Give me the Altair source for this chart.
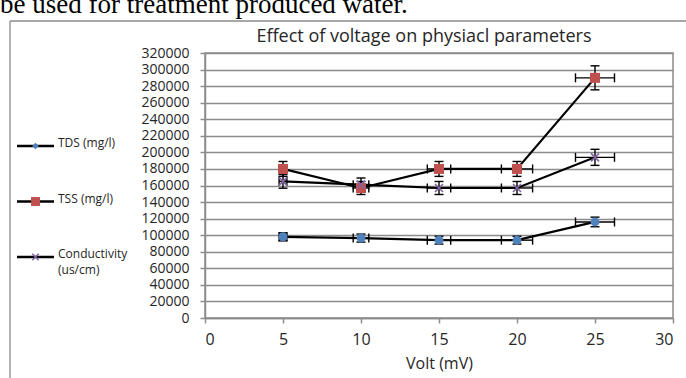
import altair as alt
import pandas as pd

# Measured values per applied voltage
volt = [5, 10, 15, 20, 25]
tds = [98000, 96500, 94000, 94000, 116000]
tss = [180000, 157000, 180000, 180000, 290000]
conductivity = [165000, 161000, 157000, 157000, 194000]

series_names = ["TDS (mg/l)", "TSS (mg/l)", "Conductivity (us/cm)"]
legend_lines = [["TDS (mg/l)"], ["TSS (mg/l)"], ["Conductivity", "(us/cm)"]]
series_colors = ["#4F81BD", "#C0504D", "#8064A2"]
error_fraction = 0.05  # 5 % error bars on both axes

x_ticks = [0, 5, 10, 15, 20, 25, 30]
y_ticks = list(range(0, 320001, 20000))

doc_text = "be used for treatment produced water."
chart_title = "Effect of voltage on physiacl parameters"

FONT = "Open Sans"
GRID = "#8c8c8c"
INK = "#262626"

rows = []
for name, values in zip(series_names, [tds, tss, conductivity]):
    for v, val in zip(volt, values):
        rows.append({
            "series": name, "volt": v, "value": val,
            "ylo": val * (1 - error_fraction), "yhi": val * (1 + error_fraction),
            "xlo": v * (1 - error_fraction), "xhi": v * (1 + error_fraction),
        })
df = pd.DataFrame(rows)

x_scale = alt.Scale(domain=[0, 30], nice=False, zero=False)
y_scale = alt.Scale(domain=[0, 320000], nice=False)
x_axis = alt.Axis(values=x_ticks, title="Volt (mV)", grid=False, tickSize=5,
                  labelPadding=8, titlePadding=8, labelFontSize=16, titleFontSize=16,
                  titleFontWeight="normal")
y_axis = alt.Axis(values=y_ticks, title=None, grid=True, format="d", tickSize=5,
                  labelPadding=11, labelFontSize=14)


def X(field):
    return alt.X(f"{field}:Q", scale=x_scale, axis=x_axis)


def Y(field):
    return alt.Y(f"{field}:Q", scale=y_scale, axis=y_axis)


base = alt.Chart(df)

lines = base.mark_line(color="black", strokeWidth=2.2).encode(
    x=X("volt"), y=Y("value"), detail="series:N", order="volt:Q"
)

# Error bars (5 %) in both directions, with end caps
err_style = dict(color="black", strokeWidth=1.4)
cap = dict(size=9, thickness=1.4, color="black", opacity=1)
y_err = base.mark_rule(**err_style).encode(x=X("volt"), y=Y("ylo"), y2="yhi:Q")
y_cap_lo = base.mark_tick(orient="horizontal", **cap).encode(x=X("volt"), y=Y("ylo"))
y_cap_hi = base.mark_tick(orient="horizontal", **cap).encode(x=X("volt"), y=Y("yhi"))
x_err = base.mark_rule(**err_style).encode(x=X("xlo"), x2="xhi:Q", y=Y("value"))
x_cap_lo = base.mark_tick(orient="vertical", **cap).encode(x=X("xlo"), y=Y("value"))
x_cap_hi = base.mark_tick(orient="vertical", **cap).encode(x=X("xhi"), y=Y("value"))


def subset(name):
    return base.transform_filter(alt.datum.series == name)


tds_pts = subset(series_names[0]).mark_point(
    shape="circle", filled=True, size=80, color=series_colors[0], opacity=1
).encode(x=X("volt"), y=Y("value"))
tss_pts = subset(series_names[1]).mark_point(
    shape="square", filled=True, size=100, color=series_colors[1], opacity=1
).encode(x=X("volt"), y=Y("value"))
cross_path = "M-1,-1L1,1M-1,1L1,-1"
cond_pts = subset(series_names[2]).mark_point(
    shape=cross_path, filled=False, size=64, color=series_colors[2],
    strokeWidth=1.6, opacity=1
).encode(x=X("volt"), y=Y("value"))

plot = alt.layer(lines, y_err, y_cap_lo, y_cap_hi, x_err, x_cap_lo, x_cap_hi,
                 tds_pts, tss_pts, cond_pts)

# Legend on the left, one row per series
legend_df = pd.DataFrame({
    "row": [0, 1, 2],
    "series": series_names,
    "label": legend_lines,
})
leg_y = alt.Y("row:Q", scale=alt.Scale(domain=[0, 2], range=[93, 204]), axis=None)
leg_base = alt.Chart(legend_df)
leg_rule = leg_base.mark_rule(color="black", strokeWidth=2.5).encode(
    x=alt.value(-188), x2=alt.value(-151), y=leg_y)
leg_tds = leg_base.transform_filter(alt.datum.row == 0).mark_point(
    shape="diamond", filled=True, size=45, color=series_colors[0], opacity=1
).encode(x=alt.value(-169.5), y=leg_y)
leg_tss = leg_base.transform_filter(alt.datum.row == 1).mark_point(
    shape="square", filled=True, size=80, color=series_colors[1], opacity=1
).encode(x=alt.value(-169.5), y=leg_y)
leg_cond = leg_base.transform_filter(alt.datum.row == 2).mark_point(
    shape=cross_path, filled=False, size=40, color=series_colors[2], strokeWidth=1.5, opacity=1
).encode(x=alt.value(-169.5), y=leg_y)
leg_text = leg_base.mark_text(
    align="left", baseline="top", dy=-8, font=FONT, fontSize=12, lineHeight=15.5, color=INK
).encode(x=alt.value(-147), y=leg_y, text="label")

legend = alt.layer(leg_rule, leg_tds, leg_tss, leg_cond, leg_text)

# Chart title, outer frame and the line of body text above the frame
deco_df = pd.DataFrame({"t": [doc_text], "title": [chart_title]})
title_text = alt.Chart(deco_df).mark_text(
    align="center", baseline="middle", font=FONT, fontSize=18, color=INK
).encode(x=alt.value(219), y=alt.value(-16), text="title")
frame_left = alt.Chart(deco_df).mark_rule(color="#8a8a8a", strokeWidth=1.3).encode(
    x=alt.value(-195), y=alt.value(-32), y2=alt.value(330))
frame_top = alt.Chart(deco_df).mark_rule(color="#8a8a8a", strokeWidth=1.3).encode(
    x=alt.value(-195), x2=alt.value(490), y=alt.value(-32))
body_text = alt.Chart(deco_df).mark_text(
    align="left", baseline="alphabetic", font="Liberation Serif", fontSize=27, color="black"
).encode(x=alt.value(-205), y=alt.value(-40), text="t")

chart = alt.layer(plot, legend, title_text, frame_left, frame_top, body_text).resolve_scale(
    y="independent"
).properties(
    width=468,
    height=265,
    padding={"left": 205, "top": 53, "right": 13, "bottom": 60},
    autosize=alt.AutoSizeParams(type="none"),
).configure_view(
    stroke=GRID, strokeWidth=1.5
).configure_axis(
    domainColor=GRID, domainWidth=1.5, tickColor=GRID, tickWidth=1.5,
    gridColor=GRID, gridWidth=1.5, gridOpacity=1,
    labelFont=FONT, titleFont=FONT, labelColor=INK, titleColor=INK,
)

chart.save("out.html", embed_options={"renderer": "svg", "actions": False})
